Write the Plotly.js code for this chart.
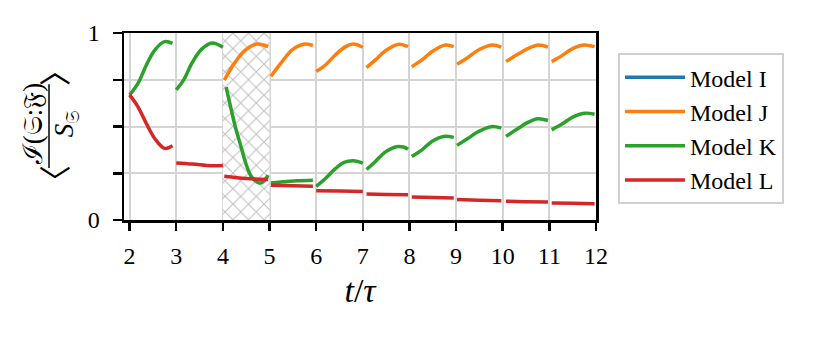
<!DOCTYPE html>
<html>
<head>
<meta charset="utf-8">
<script src="https://cdn.plot.ly/plotly-3.0.1.min.js"></script>
<style>
  body { margin: 0; background: #fff; }
  #chart { width: 831px; height: 337px; }
</style>
</head>
<body>
<div id="chart"></div>
<script>
// values, one null between each restart segment
// (Model I never shows up in the picture, only in the legend)
let modelI_t = [null]
let modelI_v = [null]

let modelJ_t = [4.03, 4.27, 4.48, 4.73, 4.97, null,
                5.03, 5.27, 5.48, 5.73, 5.93, null,
                6.00, 6.20, 6.41, 6.63, 6.80, 7.00, null,
                7.08, 7.27, 7.48, 7.77, 7.97, null,
                8.05, 8.27, 8.48, 8.77, 8.95, null,
                9.02, 9.23, 9.48, 9.77, 9.97, null,
                10.07, 10.32, 10.55, 10.77, 10.97, null,
                11.05, 11.27, 11.48, 11.73, 11.97]
let modelJ_v = [0.748, 0.847, 0.909, 0.941, 0.927, null,
                0.769, 0.847, 0.909, 0.940, 0.933, null,
                0.794, 0.829, 0.882, 0.927, 0.941, 0.924, null,
                0.815, 0.856, 0.904, 0.940, 0.927, null,
                0.820, 0.856, 0.900, 0.936, 0.927, null,
                0.833, 0.865, 0.909, 0.936, 0.924, null,
                0.847, 0.886, 0.918, 0.936, 0.924, null,
                0.847, 0.879, 0.914, 0.936, 0.927]

let modelK_t = [2.00, 2.18, 2.36, 2.54, 2.75, 2.92, null,
                3.00, 3.15, 3.35, 3.55, 3.77, 4.00, null,
                4.07, 4.17, 4.27, 4.38, 4.47, 4.55, 4.63, 4.72, 4.80, 4.88, 4.97, null,
                5.03, 5.30, 5.60, 5.93, null,
                6.00, 6.20, 6.40, 6.60, 6.80, 7.00, null,
                7.08, 7.27, 7.48, 7.72, 7.87, 7.97, null,
                8.05, 8.27, 8.48, 8.73, 8.95, null,
                9.02, 9.25, 9.48, 9.75, 9.97, null,
                10.07, 10.32, 10.55, 10.75, 10.97, null,
                11.05, 11.27, 11.50, 11.75, 11.97]
let modelK_v = [0.669, 0.731, 0.829, 0.909, 0.954, 0.945, null,
                0.696, 0.745, 0.845, 0.915, 0.947, 0.924, null,
                0.710, 0.600, 0.495, 0.400, 0.320, 0.262, 0.225, 0.205, 0.198, 0.208, 0.240, null,
                0.198, 0.204, 0.210, 0.213, null,
                0.180, 0.222, 0.272, 0.308, 0.317, 0.304, null,
                0.270, 0.313, 0.363, 0.392, 0.390, 0.378, null,
                0.340, 0.375, 0.420, 0.447, 0.442, null,
                0.399, 0.436, 0.473, 0.499, 0.491, null,
                0.447, 0.488, 0.523, 0.541, 0.532, null,
                0.482, 0.513, 0.550, 0.571, 0.566]

let modelL_t = [2.00, 2.18, 2.36, 2.55, 2.75, 2.92, null,
                3.00, 3.35, 3.75, 4.00, null,
                4.03, 4.50, 4.97, null,
                5.03, 5.50, 5.93, null,
                6.00, 6.50, 7.00, null,
                7.08, 7.50, 7.97, null,
                8.05, 8.50, 8.95, null,
                9.02, 9.50, 9.97, null,
                10.07, 10.50, 10.97, null,
                11.05, 11.50, 11.97]
let modelL_v = [0.669, 0.605, 0.515, 0.432, 0.383, 0.397, null,
                0.305, 0.299, 0.290, 0.291, null,
                0.234, 0.222, 0.217, null,
                0.186, 0.183, 0.181, null,
                0.157, 0.155, 0.152, null,
                0.139, 0.137, 0.135, null,
                0.123, 0.120, 0.117, null,
                0.109, 0.106, 0.103, null,
                0.100, 0.098, 0.096, null,
                0.091, 0.089, 0.087]

let names = ['Model I', 'Model J', 'Model K', 'Model L']
let colors = ['#1f77b4', '#ff7f0e', '#2ca02c', '#d62728']

let hatchSpan = [4, 5]
let xTicks = [2, 3, 4, 5, 6, 7, 8, 9, 10, 11, 12]
let yTicks = [0, 0.25, 0.5, 0.75, 1]
let yTickText = ['0', '', '', '', '1']

let serif = 'Liberation Serif, DejaVu Serif, serif'

// hatched window drawn as a single bar with an x pattern
let hatch = {
  type: 'bar',
  x: [(hatchSpan[0] + hatchSpan[1]) / 2],
  y: [1],
  width: [hatchSpan[1] - hatchSpan[0]],
  marker: {
    color: 'white',
    line: {width: 0},
    pattern: {shape: 'x', size: 11, solidity: 0.18, fgcolor: '#c0c0c0', bgcolor: 'white'}
  },
  showlegend: false,
  hoverinfo: 'skip'
}

let xs = [modelI_t, modelJ_t, modelK_t, modelL_t]
let ys = [modelI_v, modelJ_v, modelK_v, modelL_v]

let data = [hatch]
for (let i = 0; i < names.length; i++) {
  data.push({
    x: xs[i],
    y: ys[i],
    name: names[i],
    type: 'scatter',
    mode: 'lines',
    connectgaps: false,
    showlegend: true,
    line: {color: colors[i], width: 3.5, shape: 'spline', smoothing: 1}
  })
}

// pixel helpers for the hand built y label
let px = function(p) { return (p - 124) / 472 }
let py = function(p) { return (220 - p) / 187.3 }

let ylabelPart = function(x, y, text, font) {
  return {xref: 'paper', yref: 'paper', x: px(x), y: py(y), text: text,
          xanchor: 'center', yanchor: 'middle', textangle: -90,
          showarrow: false, font: font}
}

let layout = {
  width: 831,
  height: 337,
  margin: {l: 124, r: 235, t: 33, b: 117},
  paper_bgcolor: 'white',
  plot_bgcolor: 'white',
  font: {family: serif, size: 24, color: 'black'},
  showlegend: true,
  xaxis: {
    range: [1.88, 12],
    tickvals: xTicks,
    ticks: 'outside', ticklen: 8, tickwidth: 2.5, tickcolor: 'black',
    ticklabelstandoff: 5,
    showgrid: true, gridcolor: '#d4d4d4', gridwidth: 2,
    zeroline: false,
    showline: true, linecolor: 'black', linewidth: 2.5, mirror: true,
    title: {text: '<i>t</i>/<i>τ</i>', font: {size: 34}, standoff: 10}
  },
  yaxis: {
    range: [0, 1],
    tickvals: yTicks,
    ticktext: yTickText,
    ticks: 'outside', ticklen: 9, tickwidth: 2.5, tickcolor: 'black',
    ticklabelstandoff: 8,
    showgrid: true, gridcolor: '#d4d4d4', gridwidth: 2,
    zeroline: false,
    showline: true, linecolor: 'black', linewidth: 2.5, mirror: true
  },
  legend: {
    x: px(618), y: py(53), xanchor: 'left', yanchor: 'top',
    bgcolor: 'white', bordercolor: '#d0d0d0', borderwidth: 2,
    font: {family: serif, size: 24},
    itemwidth: 60
  },
  shapes: [
    {type: 'line', xref: 'paper', yref: 'paper',
     x0: px(49), x1: px(49), y0: py(84), y1: py(168),
     line: {color: 'black', width: 1.5}}
  ],
  annotations: [
    ylabelPart(33, 124, 'ℐ(𝔖:𝔉)', {size: 27}),
    ylabelPart(66, 124, '<i>S</i><sub>𝔖</sub>', {size: 27}),
    ylabelPart(53, 181, '〈', {family: 'Noto Sans CJK SC', size: 32}),
    ylabelPart(53, 70, '〉', {family: 'Noto Sans CJK SC', size: 32})
  ]
}

Plotly.newPlot('chart', data, layout, {displayModeBar: false, staticPlot: true})
</script>
</body>
</html>
